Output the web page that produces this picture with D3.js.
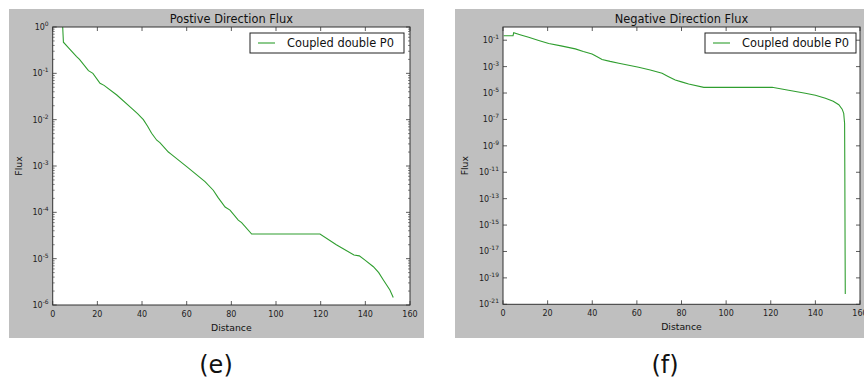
<!DOCTYPE html>
<html>
<head>
<meta charset="utf-8">
<script src="https://cdn.jsdelivr.net/npm/d3@7"></script>
<style>
  body { margin: 0; background: #fff; }
  svg { display: block; font-family: "DejaVu Sans", sans-serif; }
</style>
</head>
<body>
<svg id="chart" width="864" height="380"></svg>
<script>
// positive direction flux
const posDistance = [4.0, 4.8, 7, 10.7, 12, 16, 18, 21.2, 23, 28.7, 35.4, 38, 40.6, 42.5, 44.3, 46.6, 48, 51.8, 53, 60, 68.2, 71.9, 74, 77.2, 79.4, 83.1, 84.6, 89.1, 100, 110, 119.7, 127, 134.9, 137.3, 140, 143.6, 146, 148, 151, 152.5];
const posFlux = [3, 0.47, 0.36, 0.23, 0.2, 0.114, 0.1, 0.061, 0.055, 0.034, 0.0175, 0.0135, 0.01, 0.0072, 0.0051, 0.0036, 0.0032, 0.002, 0.0018, 9.7e-4, 4.6e-4, 3.0e-4, 2.1e-4, 1.3e-4, 1.12e-4, 6.8e-5, 6.0e-5, 3.4e-5, 3.4e-5, 3.4e-5, 3.4e-5, 2.0e-5, 1.2e-5, 1.15e-5, 9.2e-6, 6.7e-6, 5.0e-6, 3.5e-6, 2.1e-6, 1.45e-6];

// negative direction flux
const negDistance = [0.3, 4.5, 4.8, 8, 11.5, 16, 20.5, 26, 32.4, 36, 39.9, 42, 44.4, 48, 51.9, 60.8, 66, 71.3, 74, 77.2, 80, 83.2, 90, 100, 110, 120.6, 128, 135.5, 140, 144.5, 148, 150.5, 152, 152.7, 153.1, 153.2, 153.3, 153.4];
const negFlux = [0.22, 0.22, 0.37, 0.25, 0.165, 0.095, 0.057, 0.037, 0.022, 0.014, 0.009, 0.0058, 0.0035, 0.0025, 0.0018, 8.9e-4, 5.5e-4, 3.1e-4, 1.8e-4, 9.6e-5, 7.0e-5, 4.8e-5, 2.7e-5, 2.7e-5, 2.7e-5, 2.7e-5, 1.6e-5, 9.5e-6, 6.8e-6, 4.0e-6, 2.4e-6, 1.3e-6, 6e-7, 2.9e-7, 5e-8, 1e-11, 1e-16, 6e-21];

const xTicks = [0, 20, 40, 60, 80, 100, 120, 140, 160];
const posExponents = [0, -1, -2, -3, -4, -5, -6];
const negExponents = [-1, -3, -5, -7, -9, -11, -13, -15, -17, -19, -21];
const seriesName = 'Coupled double P0';

const svg = d3.select('#chart');
const lineColor = '#2f9e2f';
const spineColor = '#333';

function drawPanel(cfg) {
    const g = svg.append('g');

    // grey figure background
    g.append('rect')
        .attr('x', cfg.bg[0]).attr('y', cfg.bg[1])
        .attr('width', cfg.bg[2]).attr('height', cfg.bg[3])
        .attr('fill', '#bfbfbf');

    const x = d3.scaleLinear().domain([0, 160]).range([cfg.left, cfg.right]);
    const y = d3.scaleLog().domain(cfg.yDomain).range([cfg.bottom, cfg.top]);

    g.append('rect')
        .attr('x', cfg.left).attr('y', cfg.top)
        .attr('width', cfg.right - cfg.left).attr('height', cfg.bottom - cfg.top)
        .attr('fill', '#fff');

    const clipId = 'clip-' + cfg.id;
    g.append('clipPath').attr('id', clipId)
        .append('rect')
        .attr('x', cfg.left).attr('y', cfg.top)
        .attr('width', cfg.right - cfg.left).attr('height', cfg.bottom - cfg.top);

    const line = d3.line()
        .x(d => x(d[0]))
        .y(d => y(d[1]));

    g.append('path')
        .datum(cfg.xs.map((d, i) => [d, cfg.ys[i]]))
        .attr('clip-path', `url(#${clipId})`)
        .attr('d', line)
        .attr('fill', 'none')
        .attr('stroke', lineColor)
        .attr('stroke-width', 1.1);

    // x ticks, pointing inward on bottom and top
    xTicks.forEach(t => {
        g.append('line')
            .attr('x1', x(t)).attr('x2', x(t))
            .attr('y1', cfg.bottom).attr('y2', cfg.bottom - 4)
            .attr('stroke', spineColor).attr('stroke-width', 0.8);
        g.append('line')
            .attr('x1', x(t)).attr('x2', x(t))
            .attr('y1', cfg.top).attr('y2', cfg.top + 4)
            .attr('stroke', spineColor).attr('stroke-width', 0.8);
        g.append('text')
            .attr('x', x(t)).attr('y', cfg.bottom + 12)
            .attr('text-anchor', 'middle')
            .style('font-size', '8px')
            .attr('fill', '#222')
            .text(t);
    });

    // y major ticks with 10^n labels
    cfg.exponents.forEach(e => {
        const yy = y(Math.pow(10, e));
        [cfg.left, cfg.right].forEach((sx, k) => {
            g.append('line')
                .attr('x1', sx).attr('x2', k === 0 ? sx + 4 : sx - 4)
                .attr('y1', yy).attr('y2', yy)
                .attr('stroke', spineColor).attr('stroke-width', 0.8);
        });
        const lbl = g.append('text')
            .attr('x', cfg.left - 4).attr('y', yy + 3)
            .attr('text-anchor', 'end')
            .style('font-size', '8px')
            .attr('fill', '#222');
        lbl.append('tspan').text('10');
        lbl.append('tspan')
            .attr('dy', -4)
            .style('font-size', '6px')
            .text(e === 0 ? '0' : '-' + Math.abs(e));
    });

    // minor ticks on the log axis
    if (cfg.minor) {
        const [lo, hi] = cfg.yDomain;
        for (let p = Math.log10(lo); p < Math.log10(hi); p++) {
            for (let m = 2; m < 10; m++) {
                const yy = y(m * Math.pow(10, p));
                [cfg.left, cfg.right].forEach((sx, k) => {
                    g.append('line')
                        .attr('x1', sx).attr('x2', k === 0 ? sx + 2 : sx - 2)
                        .attr('y1', yy).attr('y2', yy)
                        .attr('stroke', spineColor).attr('stroke-width', 0.6);
                });
            }
        }
    }

    // spines
    g.append('rect')
        .attr('x', cfg.left).attr('y', cfg.top)
        .attr('width', cfg.right - cfg.left).attr('height', cfg.bottom - cfg.top)
        .attr('fill', 'none')
        .attr('stroke', spineColor).attr('stroke-width', 1);

    g.append('text')
        .attr('x', (cfg.left + cfg.right) / 2).attr('y', cfg.top - 4)
        .attr('text-anchor', 'middle')
        .style('font-size', '11.4px')
        .attr('fill', '#111')
        .text(cfg.title);

    g.append('text')
        .attr('x', (cfg.left + cfg.right) / 2).attr('y', cfg.bottom + 26)
        .attr('text-anchor', 'middle')
        .style('font-size', '9.3px')
        .attr('fill', '#111')
        .text('Distance');

    g.append('text')
        .attr('transform', `translate(${cfg.yLabelX},${(cfg.top + cfg.bottom) / 2}) rotate(-90)`)
        .attr('text-anchor', 'middle')
        .style('font-size', '9.3px')
        .attr('fill', '#111')
        .text('Flux');

    // legend
    const lg = cfg.legend;
    g.append('rect')
        .attr('x', lg[0]).attr('y', lg[1])
        .attr('width', lg[2]).attr('height', 20)
        .attr('fill', '#fff')
        .attr('stroke', '#222').attr('stroke-width', 1);
    g.append('line')
        .attr('x1', lg[0] + 8).attr('x2', lg[0] + 25)
        .attr('y1', lg[1] + 10).attr('y2', lg[1] + 10)
        .attr('stroke', lineColor).attr('stroke-width', 1.1);
    g.append('text')
        .attr('x', lg[0] + 37).attr('y', lg[1] + 14)
        .style('font-size', '11.4px')
        .attr('fill', '#111')
        .text(seriesName);

    // panel caption below the figure
    svg.append('text')
        .attr('x', cfg.captionX).attr('y', 373)
        .attr('text-anchor', 'middle')
        .style('font-size', '24px')
        .attr('fill', '#111')
        .text(cfg.caption);
}

drawPanel({
    id: 'pos',
    bg: [9, 9, 415, 329],
    left: 52.7, right: 410, top: 27, bottom: 305,
    yDomain: [1e-6, 1],
    exponents: posExponents,
    minor: true,
    xs: posDistance, ys: posFlux,
    title: 'Postive Direction Flux',
    yLabelX: 22,
    legend: [250, 33, 154],
    caption: '(e)',
    captionX: 216
});

drawPanel({
    id: 'neg',
    bg: [455, 9, 409, 329],
    left: 503, right: 860, top: 27, bottom: 304.3,
    yDomain: [1e-21, 1],
    exponents: negExponents,
    minor: false,
    xs: negDistance, ys: negFlux,
    title: 'Negative Direction Flux',
    yLabelX: 468,
    legend: [705, 33, 151],
    caption: '(f)',
    captionX: 665
});
</script>
</body>
</html>
